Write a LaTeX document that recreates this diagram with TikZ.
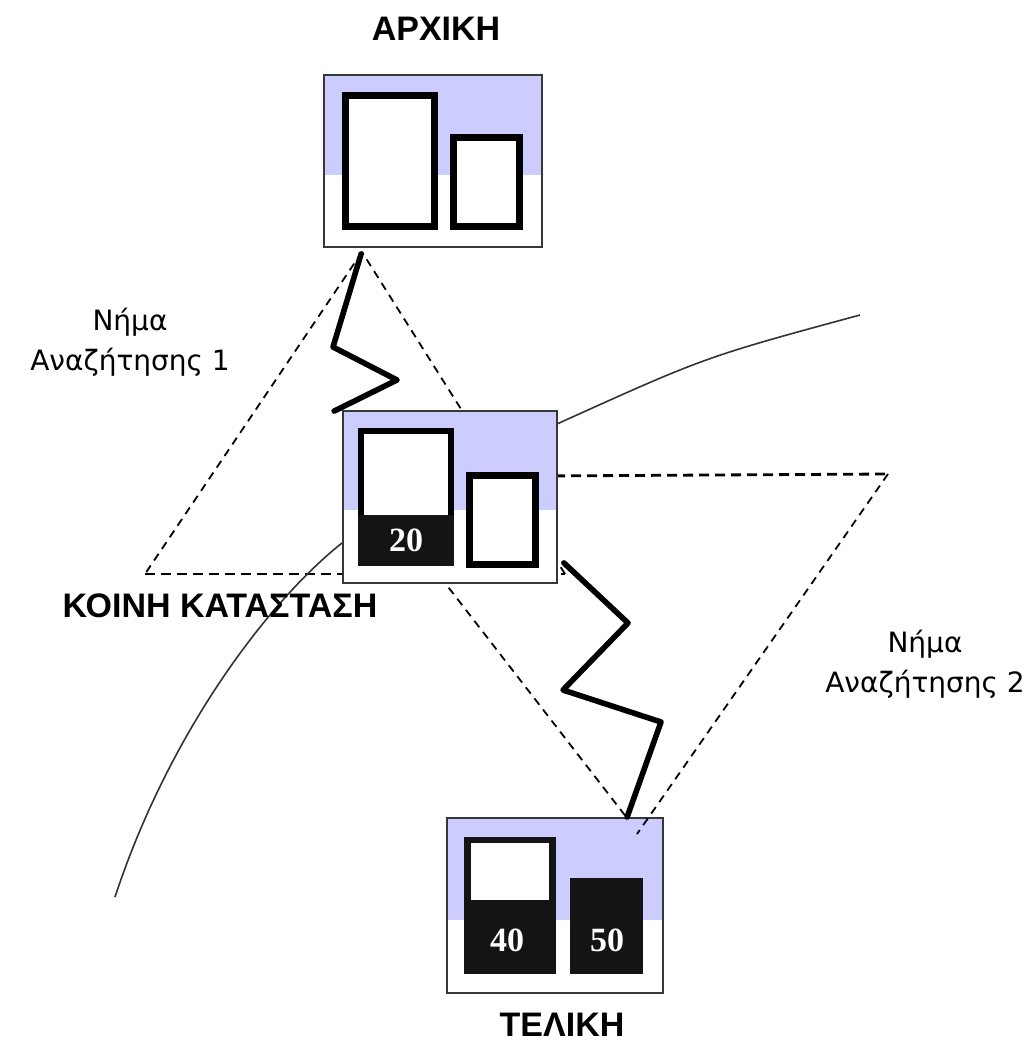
\documentclass[tikz,border=0pt]{standalone}
\usepackage{fontspec}
\newfontfamily\titlefont{Liberation Sans}
\newfontfamily\threadfont{DejaVu Sans}
\newfontfamily\numfont{Liberation Serif}
\usetikzlibrary{calc}
\definecolor{lav}{RGB}{204,204,255}
\definecolor{framegray}{RGB}{55,55,55}
\begin{document}
\begin{tikzpicture}[x=0.5pt,y=-0.5pt,
  statebox/.style={draw=framegray, line width=0.9pt, rectangle, inner sep=0pt},
  slot/.style={draw=black, line width=3.5pt, fill=white},
  zig/.style={line width=2.8pt, line join=round, line cap=round},
  thread/.style={line width=0.9pt, dash pattern=on 4pt off 3pt},
  threadbold/.style={line width=1.4pt, dash pattern=on 5pt off 3pt},
  trail/.style={line width=0.8pt, draw=black!80},
  heading/.style={font=\titlefont\bfseries\fontsize{17}{20}\selectfont, inner sep=0pt},
  lbl/.style={font=\threadfont\fontsize{14}{20}\selectfont, align=center, inner sep=0pt},
  numtext/.style={font=\numfont\bfseries\fontsize{17}{20}\selectfont, text=white, inner sep=0pt}]

\useasboundingbox (0,0) rectangle (1026,1043);

% thread triangles (behind the boxes)
\coordinate (a1) at (362,252);
\coordinate (b1) at (145,574);
\coordinate (c1) at (565,574);
\coordinate (a2) at (363,477);
\coordinate (b2) at (888,474);
\coordinate (c2) at (627,818);
\coordinate (c2b) at (637,834);
\coordinate (far1) at (860,315);
\coordinate (far2) at (115,897);
\coordinate (s1) at (557,424);
\coordinate (s2) at (342,543);

\draw[thread] (a1) -- (b1);
\draw[threadbold] (b1) -- (c1);
\draw[thread] (c1) -- (a1);
\draw[threadbold] (a2) -- (b2);
\draw[thread] (a2) -- (c2);

% thin trails
\draw[trail] (s1) .. controls (705,357) .. (far1);
\draw[trail] (s2) .. controls (270,600) and (170,730) .. (far2);

% initial state
\fill[white] (324,75) rectangle (542,247);
\fill[lav] (324,75) rectangle (542,175);
\draw[slot] (345.5,95.5) rectangle (434.5,226.5);
\draw[slot] (453.5,137.5) rectangle (519.5,226.5);
\node[statebox, minimum width=109pt, minimum height=86pt] (init) at (433,161) {};

% common state
\fill[white] (343,411) rectangle (557,583);
\fill[lav] (343,411) rectangle (557,510);
\draw[slot, line width=3pt] (361,431) rectangle (451,563);
\fill[black!92] (358,515) rectangle (454,566);
\node[numtext] (n20) at (406,540) {20};
\draw[slot] (469,475) rectangle (535,564);
\node[statebox, minimum width=107pt, minimum height=86pt] (common) at (450,497) {};

% goal state
\fill[white] (447,818) rectangle (663,993);
\fill[lav] (447,818) rectangle (663,920);
\fill[black!92] (464,837) rectangle (556,974);
\fill[white] (471,843) rectangle (549,900);
\fill[black!92] (570,878) rectangle (643,974);
\node[numtext] (n40) at (507,940) {40};
\node[numtext] (n50) at (607,940) {50};
\node[statebox, minimum width=108pt, minimum height=87.5pt] (goal) at (555,905.5) {};

% right edge of thread 2 (crosses the goal box)
\draw[thread] (b2) -- (c2b);

% zigzag search paths
\draw[zig] ($(init.south west)+(38,6)$) -- (333,347) -- (397,380) -- ($(common.north west)+(-8,1)$);
\draw[zig] ($(common.south east)+(6,-21)$) -- (628,623) -- (563,690) -- (661,722) -- ($(goal.north west)+(181,0)$);

% labels
\node[heading] (tInit) at (436,29) {ΑΡΧΙΚΗ};
\node[heading] (tCommon) at (220,606) {ΚΟΙΝΗ ΚΑΤΑΣΤΑΣΗ};
\node[heading] (tGoal) at (562,1025) {ΤΕΛΙΚΗ};
\node[lbl] (th1) at (130,342) {Νήμα\\Αναζήτησης 1};
\node[lbl] (th2) at (925,664) {Νήμα\\Αναζήτησης 2};
\end{tikzpicture}
\end{document}
